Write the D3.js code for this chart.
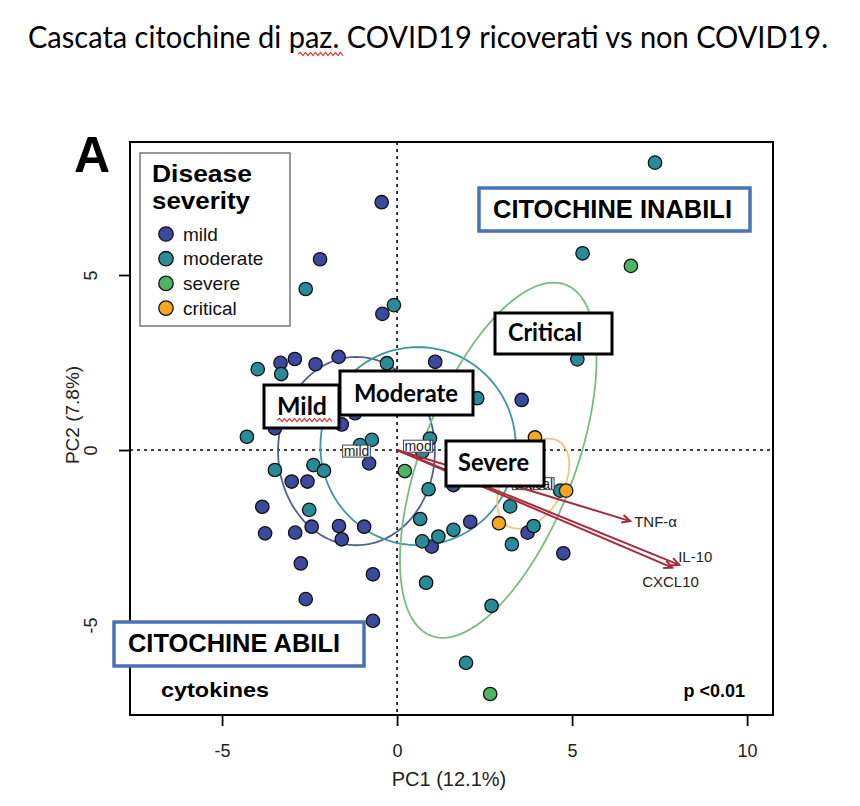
<!DOCTYPE html>
<html><head><meta charset="utf-8">
<script src="https://cdn.jsdelivr.net/npm/d3@7"></script>
<style>body{margin:0;background:#fff}</style>
</head><body>
<svg id="c" width="860" height="806"></svg>
<script>
// ---------- data ----------
const severities = ["mild", "moderate", "severe", "critical"];
const mildX = [-0.44,-2.2,-0.42,-3.33,-2.92,-2.33,-1.67,1.09,3.56,-1.58,-3.49,-1.2,-0.8,-3.01,-2.56,-3.85,-3.77,-2.91,-2.44,-1.66,-0.94,-1.58,1.61,0.99,2.09,3.73,4.75,-2.75,-0.69,-2.61,-0.69];
const mildY = [7.08,5.45,3.89,2.49,2.6,2.45,2.66,2.52,1.43,0.73,0.62,1.05,-0.38,-0.9,-0.9,-1.62,-2.38,-2.36,-2.19,-2.17,-2.19,-2.55,-1.0,-2.76,-2.05,-2.36,-2.95,-3.24,-3.55,-4.26,-4.88];
const moderateX = [-2.61,-0.09,-3.98,-3.31,-0.29,2.29,-4.29,-0.72,-1.06,-3.49,-2.39,-2.09,-2.51,0.94,0.72,0.9,0.66,1.18,0.72,1.61,3.23,3.9,3.28,4.66,7.37,5.3,5.15,0.83,2.7,1.97];
const moderateY = [4.6,4.14,2.31,2.17,2.48,1.48,0.38,0.29,0.14,-0.57,-0.43,-0.59,-1.71,0.33,-0.05,-1.12,-1.97,-2.47,-2.61,-2.28,-1.61,-2.17,-2.69,-1.16,8.21,5.62,2.59,-3.79,-4.45,-6.08];
const severeX = [0.22, 6.68, 2.66];
const severeY = [-0.6, 5.26, -6.97];
const criticalX = [3.94, 2.91, 4.83];
const criticalY = [0.36, -2.09, -1.16];

// group ellipses (centre, semi-axes, rotation in degrees); label "" = hidden in the reference
const ellLabels = ["mild", "mod", "", "critical"];
const ellCX = [-1.16, 0.6, 2.89, 3.89];
const ellCY = [-0.03, 0.11, -0.29, -0.96];
const ellA = [2.24, 2.79, 5.37, 1.41];
const ellB = [2.69, 2.83, 2.19, 0.85];
const ellAngle = [0, 0, 69, 59];

// loading arrows
const loadNames = ["TNF-α", "IL-10", "CXCL10"];
const loadX = [6.66, 8.06, 7.86];
const loadY = [-2.03, -3.28, -3.36];

const xTicks = [-5, 0, 5, 10];
const yTicks = [-5, 0, 5];
const xDomain = [-7.63, 10.74];
const yDomain = [-7.57, 8.8];

// ---------- style / layout ----------
const pointColors = ["#3b4a9c", "#2a8b98", "#4db462", "#f6a722"];
const ellColors = ["#52608f", "#3d97a1", "#79bd80", "#efc77b"];
const arrowColor = "#a82a3c";
const loadLabelOffset = [[4, 6], [-1, -3], [-30, 19]];
const frame = {l: 130, r: 773, t: 142, b: 715};
const arial = "Liberation Sans, Arial, sans-serif";
const calib = "Lato, 'Open Sans', sans-serif";

const svg = d3.select("#c");
const x = d3.scaleLinear().domain(xDomain).range([frame.l, frame.r]);
const y = d3.scaleLinear().domain(yDomain).range([frame.b, frame.t]);

// title
svg.append("text").attr("x", 28).attr("y", 48)
  .attr("font-family", calib).attr("font-size", 30)
  .attr("textLength", 800).attr("lengthAdjust", "spacingAndGlyphs")
  .attr("fill", "#000")
  .text("Cascata citochine di paz. COVID19 ricoverati vs non COVID19.");

function squiggle(x0, x1, yy) {
  let d = `M${x0},${yy}`; let up = true;
  for (let xx = x0 + 2.5; xx <= x1; xx += 2.5) { d += `L${xx},${yy + (up ? -1.6 : 1.6)}`; up = !up; }
  return d;
}
svg.append("path").attr("d", squiggle(298, 345, 54)).attr("fill", "none")
  .attr("stroke", "#d6322e").attr("stroke-width", 1.1);

// panel letter
svg.append("text").attr("x", 74).attr("y", 172).attr("font-family", arial)
  .attr("font-weight", "bold").attr("font-size", 50).text("A");

// zero lines
svg.append("line").attr("x1", x(0)).attr("x2", x(0)).attr("y1", frame.t).attr("y2", frame.b)
  .attr("stroke", "#000").attr("stroke-width", 1.6).attr("stroke-dasharray", "3,4");
svg.append("line").attr("x1", frame.l).attr("x2", frame.r).attr("y1", y(0)).attr("y2", y(0))
  .attr("stroke", "#000").attr("stroke-width", 1.6).attr("stroke-dasharray", "3,4");

// ellipses
const line = d3.line().x(d => x(d[0])).y(d => y(d[1])).curve(d3.curveLinearClosed);
ellCX.forEach((cx, i) => {
  const th = ellAngle[i] * Math.PI / 180, pts = [];
  for (let k = 0; k < 120; k++) {
    const t = k / 120 * 2 * Math.PI;
    const ex = ellA[i] * Math.cos(t), ey = ellB[i] * Math.sin(t);
    pts.push([cx + ex * Math.cos(th) - ey * Math.sin(th), ellCY[i] + ex * Math.sin(th) + ey * Math.cos(th)]);
  }
  svg.append("path").attr("d", line(pts)).attr("fill", "none")
    .attr("stroke", ellColors[i]).attr("stroke-width", 1.8);
});

// points
const groups = [[mildX, mildY], [moderateX, moderateY], [severeX, severeY], [criticalX, criticalY]];
groups.forEach((g, gi) => {
  svg.append("g").selectAll("circle").data(g[0].map((v, k) => [v, g[1][k]])).join("circle")
    .attr("cx", d => x(d[0])).attr("cy", d => y(d[1])).attr("r", 6.7)
    .attr("fill", pointColors[gi]).attr("stroke", "#111").attr("stroke-width", 1.3);
});

// ellipse labels
ellLabels.forEach((lab, i) => {
  if (!lab) return;
  const g = svg.append("g");
  const t = g.append("text").attr("x", x(ellCX[i])).attr("y", y(ellCY[i]) + 5)
    .attr("text-anchor", "middle").attr("font-family", arial)
    .attr("font-size", 14).attr("fill", "#222").text(lab);
  const bb = t.node().getBBox();
  g.insert("rect", "text").attr("x", bb.x - 1).attr("y", bb.y + 2).attr("width", bb.width + 2)
    .attr("height", bb.height - 4).attr("fill", "#fff").attr("stroke", "#444").attr("stroke-width", 1);
});

// loading arrows
loadNames.forEach((n, i) => {
  const x0 = x(0), y0 = y(0), x1 = x(loadX[i]), y1 = y(loadY[i]);
  const ang = Math.atan2(y1 - y0, x1 - x0), L = 9, wa = 0.45;
  svg.append("line").attr("x1", x0).attr("y1", y0).attr("x2", x1).attr("y2", y1)
    .attr("stroke", arrowColor).attr("stroke-width", 2);
  svg.append("path").attr("d",
      `M${x1 - L * Math.cos(ang - wa)},${y1 - L * Math.sin(ang - wa)}L${x1},${y1}L${x1 - L * Math.cos(ang + wa)},${y1 - L * Math.sin(ang + wa)}`)
    .attr("fill", "none").attr("stroke", arrowColor).attr("stroke-width", 2);
  svg.append("text").attr("x", x1 + loadLabelOffset[i][0]).attr("y", y1 + loadLabelOffset[i][1])
    .attr("font-family", arial).attr("font-size", 15)
    .attr("fill", "#222").text(n);
});

// frame
svg.append("rect").attr("x", frame.l).attr("y", frame.t).attr("width", frame.r - frame.l)
  .attr("height", frame.b - frame.t).attr("fill", "none").attr("stroke", "#000").attr("stroke-width", 2);

// axes
const ax = svg.append("g").attr("transform", `translate(0,${frame.b})`)
  .call(d3.axisBottom(x).tickValues(xTicks).tickSize(11).tickPadding(18).tickFormat(d3.format("d")));
ax.select(".domain").remove();
ax.selectAll("line").attr("stroke", "#000").attr("stroke-width", 1.8);
ax.selectAll("text").attr("font-family", arial).attr("font-size", 18).attr("fill", "#222")
  .text(d => d < 0 ? "-" + Math.abs(d) : d);

const ay = svg.append("g").attr("transform", `translate(${frame.l},0)`)
  .call(d3.axisLeft(y).tickValues(yTicks).tickSize(11).tickFormat(d3.format("d")));
ay.select(".domain").remove();
ay.selectAll("line").attr("stroke", "#000").attr("stroke-width", 1.8);
ay.selectAll("text").attr("x", null).attr("dy", null).attr("text-anchor", "middle")
  .attr("transform", "translate(-33,0) rotate(-90)")
  .attr("font-family", arial).attr("font-size", 18).attr("fill", "#222")
  .text(d => d < 0 ? "-" + Math.abs(d) : d);

svg.append("text").attr("x", 449).attr("y", 786).attr("text-anchor", "middle")
  .attr("font-family", arial).attr("font-size", 20).attr("fill", "#222")
  .text("PC1 (12.1%)");
svg.append("text").attr("transform", `translate(79,415) rotate(-90)`).attr("text-anchor", "middle")
  .attr("font-family", arial).attr("font-size", 19).attr("fill", "#222")
  .text("PC2 (7.8%)");

// legend
const lg = svg.append("g");
lg.append("rect").attr("x", 140).attr("y", 153).attr("width", 150).attr("height", 173)
  .attr("fill", "#fff").attr("stroke", "#777").attr("stroke-width", 1.5);
lg.append("text").attr("x", 152).attr("y", 182).attr("font-family", arial).attr("font-weight", "bold")
  .attr("font-size", 24).attr("textLength", 100).attr("lengthAdjust", "spacingAndGlyphs").text("Disease");
lg.append("text").attr("x", 152).attr("y", 209).attr("font-family", arial).attr("font-weight", "bold")
  .attr("font-size", 24).attr("textLength", 98).attr("lengthAdjust", "spacingAndGlyphs").text("severity");
severities.forEach((s, i) => {
  const cy = 234 + i * 24.7;
  lg.append("circle").attr("cx", 166).attr("cy", cy).attr("r", 7.2).attr("fill", pointColors[i])
    .attr("stroke", "#111").attr("stroke-width", 1.3);
  lg.append("text").attr("x", 183).attr("y", cy + 6.5).attr("font-family", arial)
    .attr("font-size", 19).attr("fill", "#111").text(s);
});

// corner texts
svg.append("text").attr("x", 161).attr("y", 697).attr("font-family", arial)
  .attr("font-weight", "bold").attr("font-size", 21).attr("textLength", 108).attr("lengthAdjust", "spacingAndGlyphs").text("cytokines");
svg.append("text").attr("x", 745).attr("y", 697).attr("text-anchor", "end").attr("font-family", arial)
  .attr("font-weight", "bold").attr("font-size", 18).text("p <0.01");

// annotation boxes
function box(x0, y0, w, h, stroke, sw, label, tx, ty, font, fs, tl) {
  svg.append("rect").attr("x", x0).attr("y", y0).attr("width", w).attr("height", h)
    .attr("fill", "#fff").attr("stroke", stroke).attr("stroke-width", sw);
  const t = svg.append("text").attr("x", tx).attr("y", ty).attr("font-family", font)
    .attr("font-weight", "bold").attr("font-size", fs).attr("fill", "#000").text(label);
  if (tl) t.attr("textLength", tl).attr("lengthAdjust", "spacingAndGlyphs");
}
box(495, 313, 117, 41, "#000", 3, "Critical", 508, 341, calib, 24, 74);
box(264, 385, 75, 43, "#000", 3, "Mild", 277, 415, calib, 24, 50);
box(340, 371, 133, 44, "#000", 3, "Moderate", 354, 402, calib, 24, 104);
box(446, 441, 98, 45, "#000", 3, "Severe", 458, 471, calib, 24, 71);
svg.append("path").attr("d", squiggle(277, 334, 420)).attr("fill", "none").attr("stroke", "#d6322e").attr("stroke-width", 1.1);
box(479, 188, 271, 43, "#4a72b6", 3.5, "CITOCHINE INABILI", 493, 218, arial, 25, 239);
box(114, 622, 250, 44, "#4a72b6", 3.5, "CITOCHINE ABILI", 128, 652, arial, 25, 212);
</script>
</body></html>
